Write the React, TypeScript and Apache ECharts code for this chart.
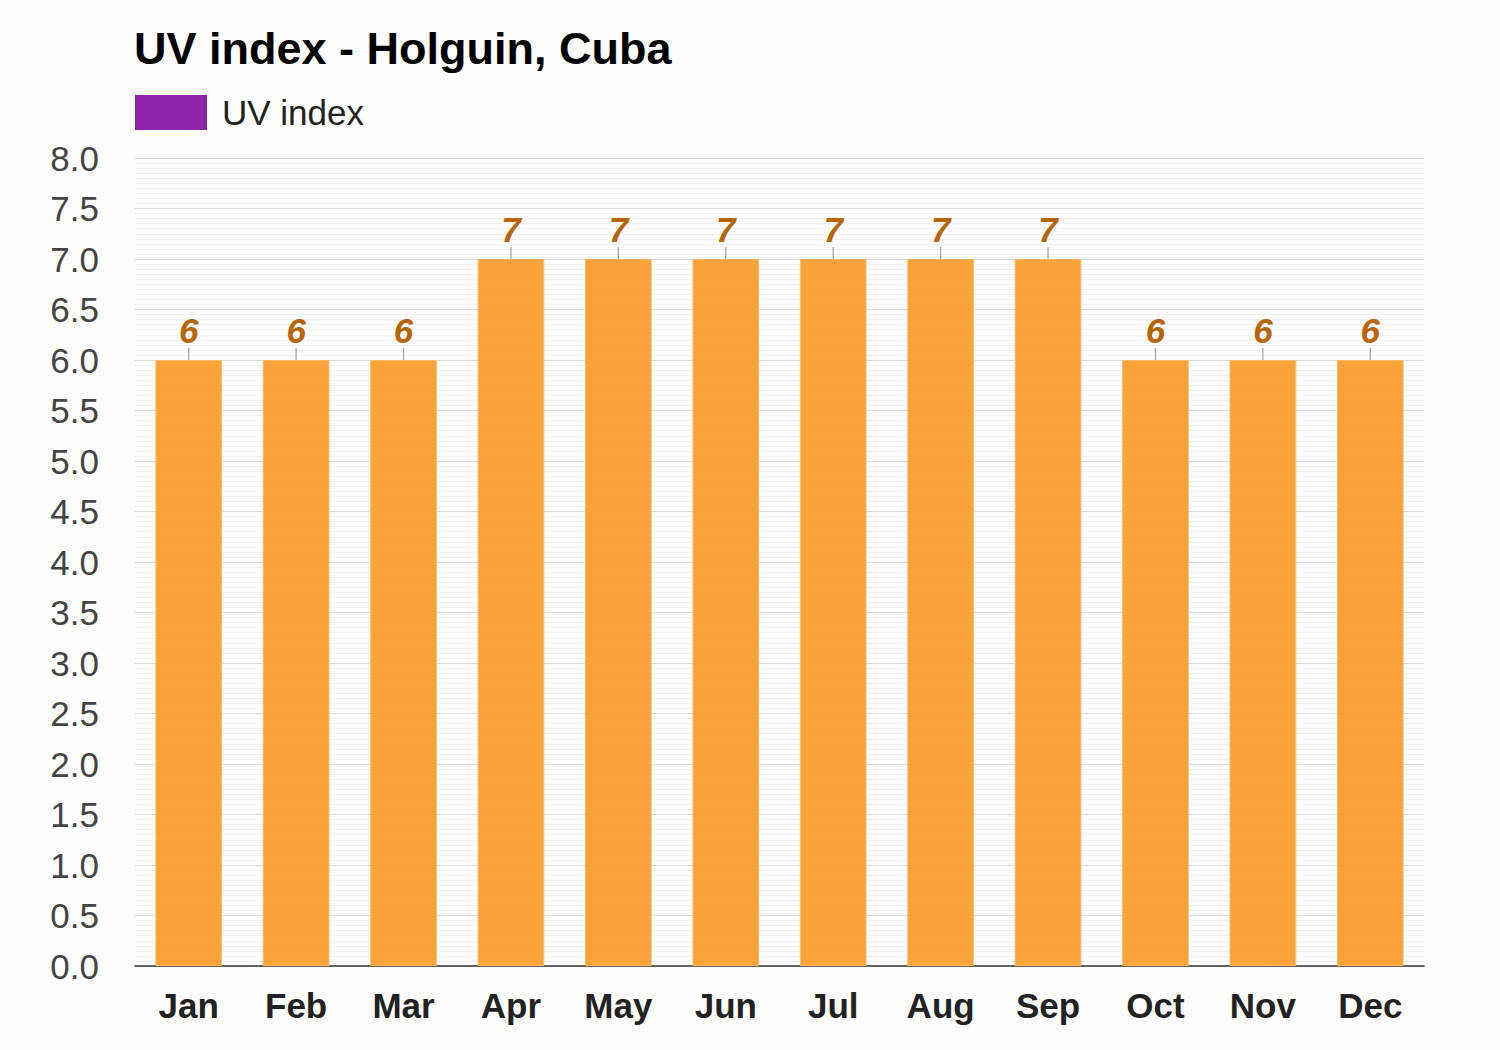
import React, { useEffect, useRef } from "react";
import * as echarts from "echarts";

const months = ["Jan", "Feb", "Mar", "Apr", "May", "Jun", "Jul", "Aug", "Sep", "Oct", "Nov", "Dec"];
const uvIndex = [6, 6, 6, 7, 7, 7, 7, 7, 7, 6, 6, 6];
const titleText = "UV index - Holguin, Cuba";
const seriesName = "UV index";

export default function App() {
  const ref = useRef<HTMLDivElement>(null);
  useEffect(() => {
    const chart = echarts.init(ref.current!, null, { renderer: "svg" });
    const font = "'Liberation Sans', Arial, Helvetica, sans-serif";
    chart.setOption({
      animation: false,
      backgroundColor: "#fdfefc",
      textStyle: { fontFamily: font },
      title: {
        text: titleText,
        left: 134,
        top: 26,
        padding: 0,
        textStyle: { fontSize: 45, fontWeight: "bold", color: "#000", fontFamily: font },
      },
      legend: {
        left: 135,
        top: 95,
        padding: 0,
        itemWidth: 72,
        itemHeight: 35,
        itemGap: 10,
        icon: "rect",
        textStyle: { fontSize: 35, color: "#222", fontFamily: font, padding: [0, 0, 0, 10] },
        data: [{ name: seriesName, itemStyle: { color: "#8e24aa", borderWidth: 0 } }],
      },
      grid: { left: 135, right: 76, top: 158, bottom: 84, containLabel: false },
      xAxis: {
        type: "category",
        data: months,
        axisLine: { show: true, lineStyle: { color: "#333", width: 1.5 } },
        axisTick: { show: false },
        axisLabel: { fontSize: 35, fontWeight: "bold", color: "#222", margin: 22, fontFamily: font },
        splitLine: { show: false },
      },
      yAxis: {
        type: "value",
        min: 0,
        max: 8,
        interval: 0.5,
        axisLine: { show: false },
        axisTick: { show: false },
        axisLabel: {
          fontSize: 35,
          color: "#444",
          margin: 36,
          fontFamily: font,
          formatter: (v: number) => v.toFixed(1),
        },
        splitLine: { show: true, lineStyle: { color: "#dddddd", width: 1 } },
        minorTick: { show: false, splitNumber: 10 },
        minorSplitLine: { show: true, lineStyle: { color: "#f2f2f2", width: 1 } },
      },
      series: [
        {
          name: seriesName,
          type: "bar",
          data: uvIndex,
          barWidth: "62%",
          itemStyle: { color: "rgba(251,154,40,0.92)", borderColor: "#fbb868", borderWidth: 1 },
          label: {
            show: true,
            position: "top",
            distance: 12,
            fontSize: 35,
            fontWeight: "bold",
            fontStyle: "italic",
            color: "#b8650a",
            fontFamily: font,
          },
          z: 2,
        },
        {
          name: "tick",
          type: "scatter",
          data: uvIndex,
          symbol: "rect",
          symbolSize: [1.2, 12],
          symbolOffset: [0, -6],
          itemStyle: { color: "#888" },
          silent: true,
          z: 3,
        },
      ],
    });
    return () => chart.dispose();
  }, []);
  return (
    <div
      ref={ref}
      style={{ position: "absolute", left: 0, top: 0, width: 1500, height: 1050 }}
    />
  );
}
